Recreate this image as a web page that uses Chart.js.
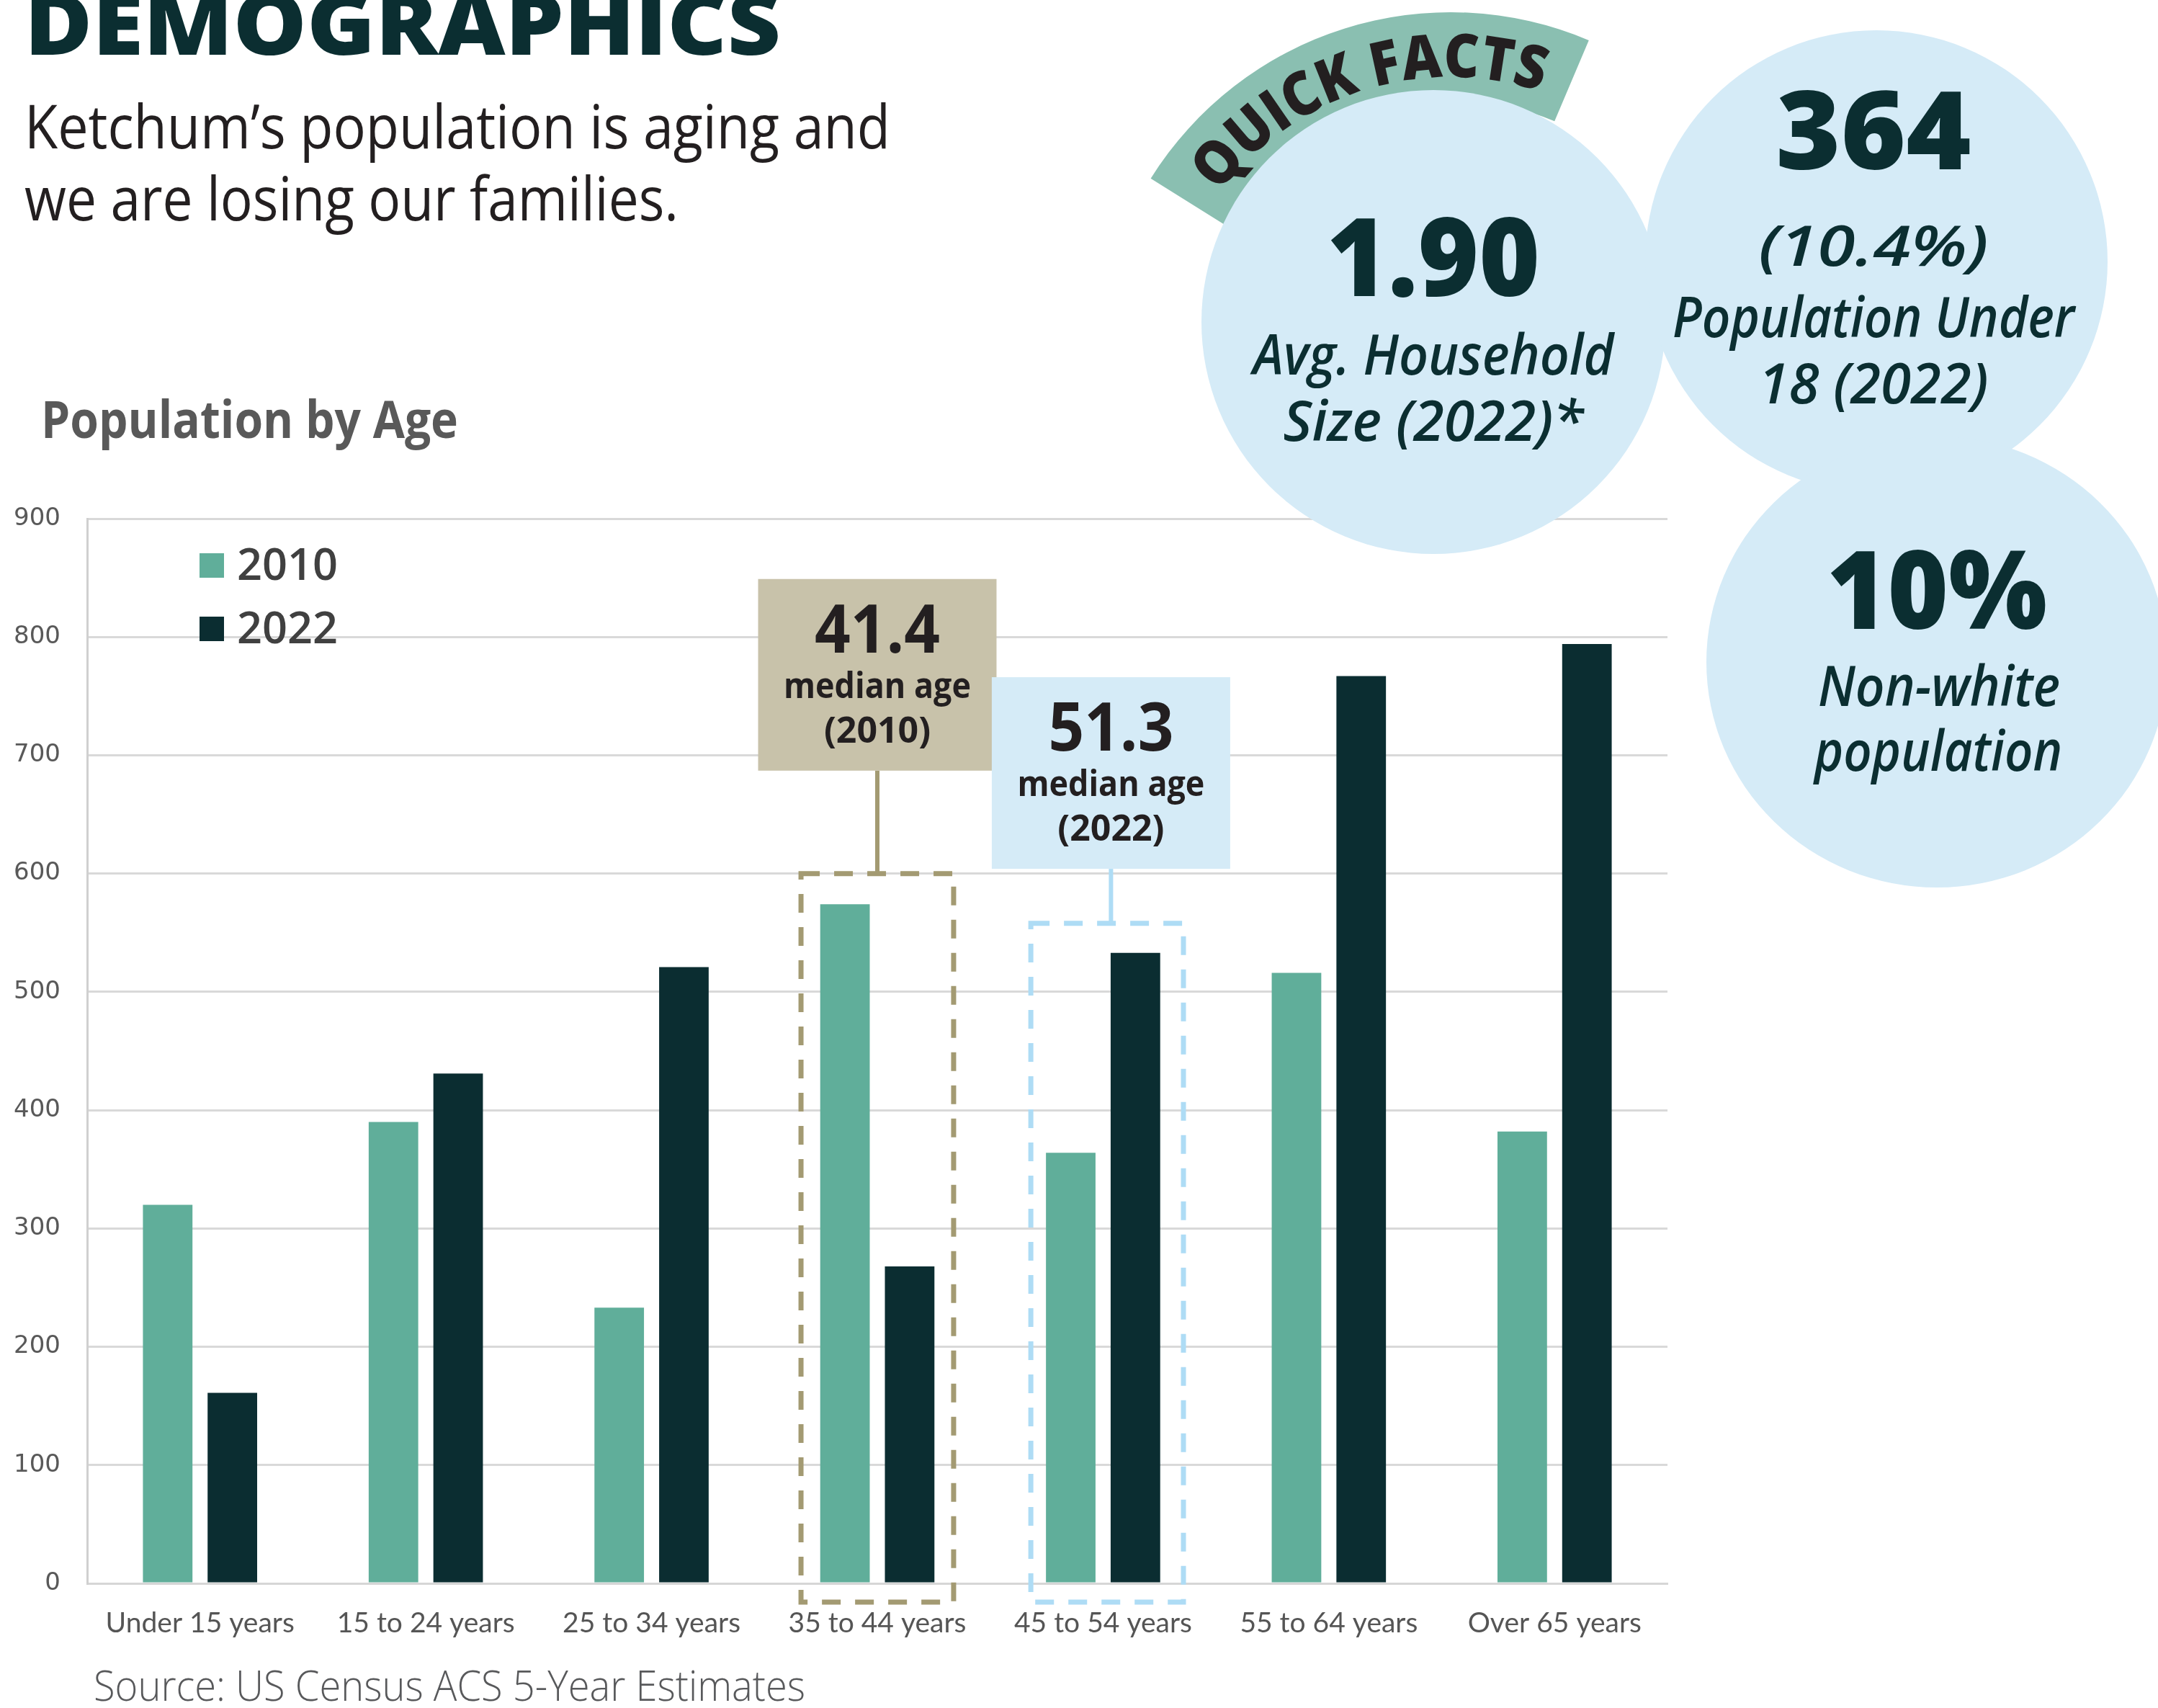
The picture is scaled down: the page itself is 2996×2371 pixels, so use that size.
<!DOCTYPE html>
<html>
<head>
<meta charset="utf-8">
<title>Demographics - Population by Age</title>
<script src="https://cdn.jsdelivr.net/npm/chart.js@4.4.1/dist/chart.umd.min.js"></script>
<style>
  html, body { margin: 0; padding: 0; background: #fff; }
  body { width: 2996px; height: 2371px; position: relative; overflow: hidden; }
  #chartBox { position: absolute; left: 0; top: 660px; width: 2380px; height: 1640px; }
  #overlay { position: absolute; left: 0; top: 0; pointer-events: none; }
  .head { font-family: 'Open Sans', sans-serif; font-weight: 800; fill: #0b2e31; }
  .sub { font-family: 'Open Sans', sans-serif; font-weight: 400; fill: #231f20; }
  .fact { font-family: 'Open Sans', sans-serif; font-weight: 600; font-style: italic; fill: #0b2e31; }
</style>
</head>
<body>
<div id="chartBox"><canvas id="myChart"></canvas></div>

<svg id="overlay" width="2996" height="2371" viewBox="0 0 2996 2371">
  <text class="head" x="34" y="76" font-size="118" textLength="1050" lengthAdjust="spacingAndGlyphs">DEMOGRAPHICS</text>
  <text class="sub" x="34" y="206" font-size="84" textLength="1202" lengthAdjust="spacingAndGlyphs">Ketchum’s population is aging and</text>
  <text class="sub" x="34" y="306" font-size="84" textLength="908" lengthAdjust="spacingAndGlyphs">we are losing our families.</text>

  <text x="57" y="608" font-family="Open Sans, sans-serif" font-weight="700" font-size="72" fill="#595959" textLength="579" lengthAdjust="spacingAndGlyphs">Population by Age</text>
  <text x="130" y="2361" font-family="Open Sans, sans-serif" font-weight="300" font-size="58" fill="#58595b" textLength="988" lengthAdjust="spacingAndGlyphs">Source: US Census ACS 5-Year Estimates</text>

  <!-- quick facts ribbon -->
  <path d="M 1597.6 247.8 A 491 491 0 0 1 2205.8 56.0 L 2158.2 168.3 A 369 369 0 0 0 1701.1 312.4 Z" fill="#8abfb1"/>
  <path id="ribbonArc" d="M 1666.7 307.5 A 401 401 0 0 1 2183.5 144.6" fill="none"/>
  <text font-family="Open Sans, sans-serif" font-weight="800" font-size="84" fill="#231f20">
    <textPath href="#ribbonArc" startOffset="50%" text-anchor="middle" textLength="500" lengthAdjust="spacingAndGlyphs">QUICK FACTS</textPath>
  </text>

  <circle cx="1990" cy="447" r="322" fill="#d5ebf7"/>
  <circle cx="2605" cy="363" r="321" fill="#d5ebf7"/>
  <ellipse cx="2689" cy="919" rx="320" ry="313" fill="#d5ebf7"/>

  <g text-anchor="middle">
    <text class="head" x="1990" y="411" font-size="150" textLength="296" lengthAdjust="spacingAndGlyphs">1.90</text>
    <text class="fact" x="1990" y="520" font-size="78" textLength="501" lengthAdjust="spacingAndGlyphs">Avg. Household</text>
    <text class="fact" x="1990" y="612" font-size="78" textLength="417" lengthAdjust="spacingAndGlyphs">Size (2022)*</text>

    <text class="head" x="2601" y="235" font-size="150" textLength="271" lengthAdjust="spacingAndGlyphs">364</text>
    <text class="fact" x="2601" y="369" font-size="78" textLength="319" lengthAdjust="spacingAndGlyphs">(10.4%)</text>
    <text class="fact" x="2601" y="468" font-size="78" textLength="558" lengthAdjust="spacingAndGlyphs">Population Under</text>
    <text class="fact" x="2601" y="560" font-size="78" textLength="319" lengthAdjust="spacingAndGlyphs">18 (2022)</text>

    <text class="head" x="2689" y="873" font-size="150" textLength="306" lengthAdjust="spacingAndGlyphs">10%</text>
    <text class="fact" x="2692" y="980" font-size="78" textLength="336" lengthAdjust="spacingAndGlyphs">Non-white</text>
    <text class="fact" x="2691" y="1070" font-size="78" textLength="344" lengthAdjust="spacingAndGlyphs">population</text>
  </g>
</svg>

<script>
const ageGroups = ['Under 15 years', '15 to 24 years', '25 to 34 years', '35 to 44 years', '45 to 54 years', '55 to 64 years', 'Over 65 years'];
const pop2010 = [320, 390, 233, 574, 364, 516, 382];
const pop2022 = [161, 431, 521, 268, 533, 767, 794];
const yTicks = [0, 100, 200, 300, 400, 500, 600, 700, 800, 900];
const seriesNames = ['2010', '2022'];
const medianAge = ['41.4', '51.3'];

// callout boxes, tied to a category and to values on the y scale
const callouts = [
    { index: 3, dashTop: 600, labelTop: 849, labelBottom: 687, shift: 0, dashShift: 0, text: [medianAge[0], 'median age', '(' + seriesNames[0] + ')'], line: '#a39a72', fill: '#c8c2aa' },
    { index: 4, dashTop: 558, labelTop: 766, labelBottom: 604, shift: 0.035, dashShift: 0.018, text: [medianAge[1], 'median age', '(' + seriesNames[1] + ')'], line: '#aedcf5', fill: '#d5ebf7' }
];

const extrasPlugin = {
    id: 'extras',
    afterDatasetsDraw(chart) {
        const { ctx, chartArea, scales: { x, y } } = chart;
        const catW = (chartArea.right - chartArea.left) / ageGroups.length;

        // legend in the top-left corner of the plot
        ctx.save();
        chart.data.datasets.forEach((ds, i) => {
            const cy = chartArea.top + 65 + i * 88;
            ctx.fillStyle = ds.backgroundColor;
            ctx.fillRect(chartArea.left + 156, cy - 17, 34, 34);
            ctx.fillStyle = '#404040';
            ctx.font = '600 62px "Open Sans", sans-serif';
            ctx.textBaseline = 'middle';
            ctx.fillText(ds.label, chartArea.left + 208, cy + 2, 140);
        });
        ctx.restore();

        callouts.forEach(c => {
            const cx = x.getPixelForValue(c.index);
            const dx = cx + catW * c.dashShift;
            const top = y.getPixelForValue(c.dashTop);
            const bottom = y.getPixelForValue(0) + 26;
            const half = catW * 0.338;

            ctx.save();
            // dashed frame round the category
            ctx.strokeStyle = c.line;
            ctx.lineWidth = 7;
            ctx.setLineDash([26, 20]);
            ctx.strokeRect(dx - half, top, half * 2, bottom - top);

            // label box and its connector
            const bx = cx + catW * c.shift;
            const bw = catW * 1.056;
            const bt = y.getPixelForValue(c.labelTop);
            const bb = y.getPixelForValue(c.labelBottom);
            ctx.setLineDash([]);
            ctx.lineWidth = 6;
            ctx.beginPath();
            ctx.moveTo(bx, bb);
            ctx.lineTo(bx, top);
            ctx.stroke();
            ctx.fillStyle = c.fill;
            ctx.fillRect(bx - bw / 2, bt, bw, bb - bt);

            ctx.fillStyle = '#231f20';
            ctx.textAlign = 'center';
            ctx.textBaseline = 'alphabetic';
            ctx.font = '700 94px "Open Sans", sans-serif';
            ctx.fillText(c.text[0], bx, bt + 102, 174);
            ctx.font = '700 50px "Open Sans", sans-serif';
            ctx.fillText(c.text[1], bx, bt + 165, 260);
            ctx.fillText(c.text[2], bx, bt + 227, 160);
            ctx.restore();
        });
    }
};

const ctx = document.getElementById('myChart').getContext('2d');

const myChart = new Chart(ctx, {
    type: 'bar',
    data: {
        labels: ageGroups,
        datasets: [
            {
                label: seriesNames[0],
                data: pop2010,
                backgroundColor: '#60ae9a',
                borderWidth: 0,
                barPercentage: 0.766,
                categoryPercentage: 0.573
            },
            {
                label: seriesNames[1],
                data: pop2022,
                backgroundColor: '#0b2d31',
                borderWidth: 0,
                barPercentage: 0.766,
                categoryPercentage: 0.573
            }
        ]
    },
    options: {
        responsive: true,
        maintainAspectRatio: false,
        devicePixelRatio: 1,
        animation: false,
        layout: { padding: { top: 60, right: 65, left: 0, bottom: 0 } },
        plugins: {
            legend: { display: false },
            tooltip: { enabled: false },
            title: { display: false }
        },
        scales: {
            x: {
                grid: { display: false, drawTicks: false },
                border: { display: true, color: '#d6d6d6', width: 3 },
                ticks: {
                    color: '#555555',
                    font: { family: "Lato, sans-serif", size: 39 },
                    padding: 32,
                    maxRotation: 0,
                    autoSkip: false
                },
                afterFit: (scale) => { scale.height = 102; }
            },
            y: {
                min: 0,
                max: 900,
                grid: { color: '#d9d9d9', lineWidth: 3, drawTicks: false },
                border: { display: true, color: '#d0d0d0', width: 3 },
                ticks: {
                    color: '#595959',
                    font: { family: "'DejaVu Sans', sans-serif", size: 34 },
                    padding: 37
                },
                afterBuildTicks: (scale) => { scale.ticks = yTicks.map(v => ({ value: v })); },
                afterFit: (scale) => { scale.width = 121; }
            }
        }
    },
    plugins: [extrasPlugin]
});
</script>
</body>
</html>
